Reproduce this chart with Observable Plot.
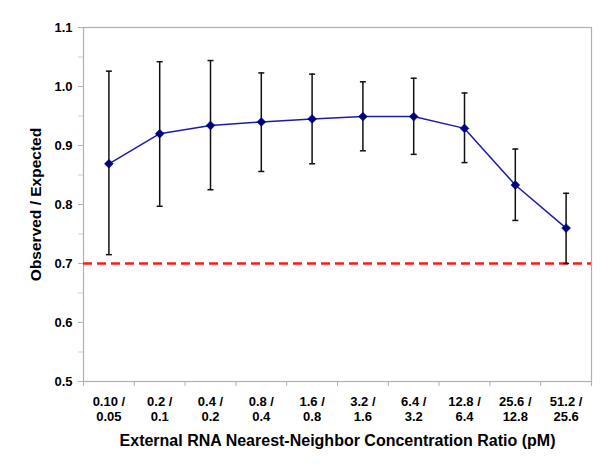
<!DOCTYPE html>
<html>
<head>
<meta charset="utf-8">
<script src="https://cdn.jsdelivr.net/npm/d3@7"></script>
<script src="https://cdn.jsdelivr.net/npm/@observablehq/plot@0.6"></script>
<style>
  html, body { margin: 0; padding: 0; background: #fff; }
  svg { font-family: "Liberation Sans", Arial, sans-serif; }
</style>
</head>
<body>
<div id="chart"></div>
<script>
const categories = ["0.10 /\n0.05", "0.2 /\n0.1", "0.4 /\n0.2", "0.8 /\n0.4", "1.6 /\n0.8", "3.2 /\n1.6", "6.4 /\n3.2", "12.8 /\n6.4", "25.6 /\n12.8", "51.2 /\n25.6"];
const ratio = [0.869, 0.920, 0.934, 0.940, 0.945, 0.949, 0.949, 0.929, 0.833, 0.760];
const errHigh = [1.026, 1.042, 1.044, 1.023, 1.021, 1.008, 1.014, 0.989, 0.894, 0.819];
const errLow = [0.715, 0.797, 0.825, 0.856, 0.869, 0.891, 0.885, 0.871, 0.773, 0.700];
const threshold = [0.7];
const yTicks = [0.5, 0.6, 0.7, 0.8, 0.9, 1.0, 1.1];
const yMinorTicks = [0.55, 0.65, 0.75, 0.85, 0.95, 1.05];

const data = categories.map((c, i) => ({i, c, v: ratio[i], hi: errHigh[i], lo: errLow[i]}));
const boundaries = d3.range(categories.length + 1).map(i => i - 0.5);

const cap = {
  draw(context, size) {
    const w = Math.sqrt(size / Math.PI);
    context.moveTo(-w, 0);
    context.lineTo(w, 0);
  }
};

const chart = Plot.plot({
  width: 600,
  height: 468,
  marginLeft: 83,
  marginRight: 9,
  marginTop: 27,
  marginBottom: 87,
  style: {fontFamily: "Liberation Sans, Arial, sans-serif", background: "#fff"},
  x: {type: "linear", domain: [-0.5, categories.length - 0.5]},
  y: {domain: [0.5, 1.1]},
  marks: [
    Plot.frame({stroke: "#b0b0b0", strokeWidth: 1.2}),
    Plot.axisY({ticks: yTicks, tickFormat: d3.format(".1f"), tickSize: 5, stroke: "#b0b0b0",
      fontSize: 13, fontWeight: "bold", tickPadding: 6,
      label: "Observed / Expected", labelAnchor: "center", labelArrow: "none", labelOffset: 54}),
    Plot.axisY({ticks: yMinorTicks, tickFormat: () => "", tickSize: 5, stroke: "#d0d0d0", label: null}),
    Plot.axisX({ticks: boundaries, tickFormat: () => "", tickSize: 5, stroke: "#b0b0b0", label: null}),
    Plot.axisX({ticks: data.map(d => d.i), tickFormat: i => categories[i], tickSize: 0, tickPadding: 13,
      fontSize: 13, fontWeight: "bold", lineHeight: 1.2,
      label: "External RNA Nearest-Neighbor Concentration Ratio (pM)", labelAnchor: "center", labelArrow: "none", labelOffset: 64}),
    Plot.ruleY(threshold, {stroke: "#ff1a1a", strokeWidth: 2.5, strokeDasharray: "9,5"}),
    Plot.ruleX(data, {x: "i", y1: "lo", y2: "hi", stroke: "#111", strokeWidth: 1.5}),
    Plot.dot(data, {x: "i", y: "hi", symbol: cap, r: 3, stroke: "#111", strokeWidth: 1.5}),
    Plot.dot(data, {x: "i", y: "lo", symbol: cap, r: 3, stroke: "#111", strokeWidth: 1.5}),
    Plot.line(data, {x: "i", y: "v", stroke: "#1c1ca8", strokeWidth: 1.5}),
    Plot.dot(data, {x: "i", y: "v", symbol: "diamond2", r: 4, fill: "#000080", stroke: "#000080", strokeWidth: 0.5})
  ]
});
chart.querySelectorAll("g[aria-label='y-axis label'] text").forEach(t => {
  t.setAttribute("font-size", "15.5");
  t.setAttribute("font-weight", "bold");
  t.setAttribute("fill", "#000");
});
chart.querySelectorAll("g[aria-label='x-axis label'] text").forEach(t => {
  t.setAttribute("font-size", "16");
  t.setAttribute("font-weight", "bold");
  t.setAttribute("fill", "#000");
});
document.getElementById("chart").appendChild(chart);
</script>
</body>
</html>
